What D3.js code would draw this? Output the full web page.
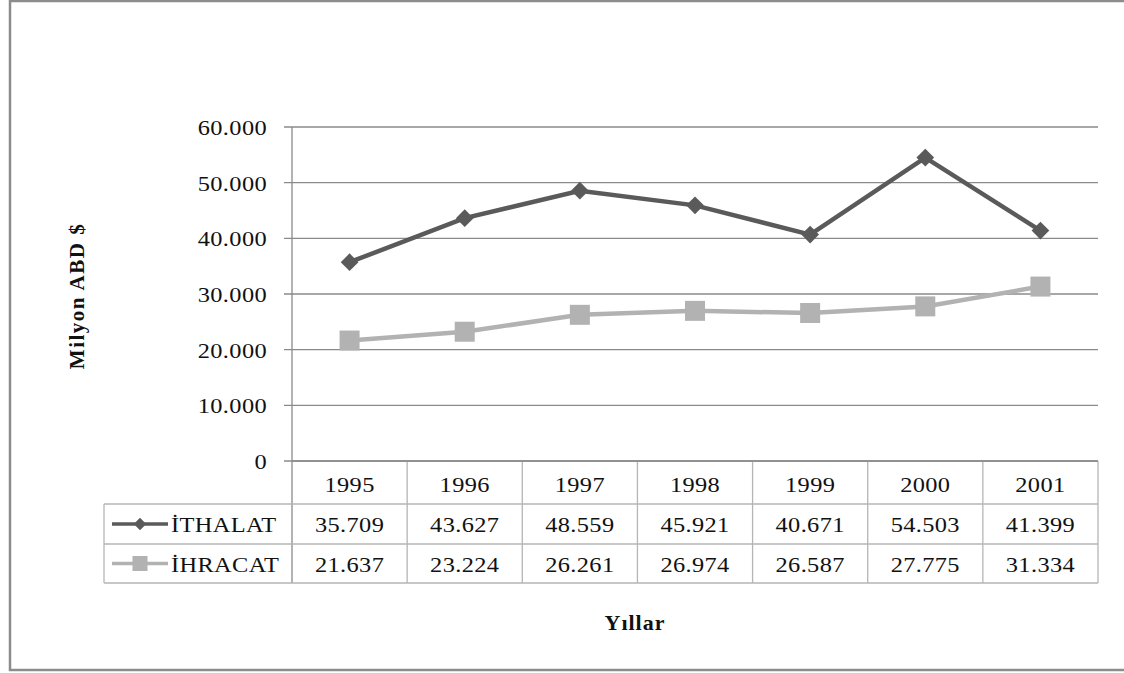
<!DOCTYPE html>
<html>
<head>
<meta charset="utf-8">
<script src="https://cdn.jsdelivr.net/npm/d3@7"></script>
<style>
  body { margin: 0; background: #fff; }
  text { font-family: "Liberation Serif", "Times New Roman", serif; fill: #111; }
</style>
</head>
<body>
<svg id="grafik" width="1124" height="673"></svg>
<script>
// veriler
const yillar = ["1995", "1996", "1997", "1998", "1999", "2000", "2001"];
const ithalat = [35709, 43627, 48559, 45921, 40671, 54503, 41399];
const ihracat = [21637, 23224, 26261, 26974, 26587, 27775, 31334];
const yTikler = [0, 10000, 20000, 30000, 40000, 50000, 60000];
const seriler = [
    { ad: "İTHALAT", degerler: ithalat, renk: "#5a5a5a", isaret: "elmas" },
    { ad: "İHRACAT", degerler: ihracat, renk: "#b2b2b2", isaret: "kare" }
];

var svg = d3.select("#grafik");
var GENIS = 1.22; // yazılar yatayda biraz geniş

// dış çerçeve
svg.append("rect")
    .attr("x", 10).attr("y", 1)
    .attr("width", 1125).attr("height", 669)
    .attr("fill", "none")
    .attr("stroke", "#8c8c8c")
    .attr("stroke-width", 2.5);

var sol = 292, sag = 1098, ust = 127, alt = 461;
var tabloSol = 104;
var satirY = [461, 504, 544, 583];

var x = d3.scaleBand().domain(yillar).range([sol, sag]);
var y = d3.scaleLinear().domain([0, 60000]).range([alt, ust]);

var fmt = function (v) { return d3.format(",")(v).replace(/,/g, "."); };

// geniş yazı yardımcı
function yazi(g, tx, ty, metin, hiza) {
    return g.append("text")
        .attr("transform", "translate(" + tx + "," + ty + ") scale(" + GENIS + ",1)")
        .attr("text-anchor", hiza || "middle")
        .style("font-size", "20px")
        .style("letter-spacing", "0.3px")
        .text(metin);
}

// yatay ızgara çizgileri
svg.append("g")
    .selectAll("line")
    .data(yTikler)
    .enter()
    .append("line")
    .attr("x1", sol - 8).attr("x2", sag)
    .attr("y1", function (d) { return y(d); })
    .attr("y2", function (d) { return y(d); })
    .attr("stroke", "#8a8a8a")
    .attr("stroke-width", 1.3);

// y ekseni etiketleri
var yEt = svg.append("g");
yTikler.forEach(function (d) {
    yazi(yEt, sol - 25, y(d) + 8, fmt(d), "end");
});

// dikey eksen çizgisi
svg.append("line")
    .attr("x1", sol).attr("x2", sol)
    .attr("y1", ust).attr("y2", satirY[3])
    .attr("stroke", "#8a8a8a").attr("stroke-width", 1.3);

// tablo çizgileri
var tablo = svg.append("g").attr("stroke", "#b5b5b5").attr("stroke-width", 1.3);
tablo.append("line").attr("x1", sag).attr("x2", sag).attr("y1", satirY[0]).attr("y2", satirY[3]);
yillar.forEach(function (yil, i) {
    if (i > 0) {
        tablo.append("line")
            .attr("x1", x(yil)).attr("x2", x(yil))
            .attr("y1", satirY[0]).attr("y2", satirY[3]);
    }
});
tablo.append("line").attr("x1", tabloSol).attr("x2", tabloSol).attr("y1", satirY[1]).attr("y2", satirY[3]);
[1, 2, 3].forEach(function (k) {
    tablo.append("line")
        .attr("x1", tabloSol).attr("x2", sag)
        .attr("y1", satirY[k]).attr("y2", satirY[k]);
});
tablo.append("line").attr("x1", sol).attr("x2", sag).attr("y1", satirY[0]).attr("y2", satirY[0])
    .attr("stroke", "#8a8a8a");

// yıl başlıkları
var baslik = svg.append("g");
yillar.forEach(function (d) {
    yazi(baslik, x(d) + x.bandwidth() / 2, (satirY[0] + satirY[1]) / 2 + 9, d);
});

function isaretCiz(g, tip, cx, cy, renk, boy) {
    if (tip === "elmas") {
        g.append("path")
            .attr("d", d3.symbol().type(d3.symbolDiamond2).size(boy * boy / 2)())
            .attr("transform", "translate(" + cx + "," + cy + ")")
            .attr("fill", renk);
    } else {
        g.append("rect")
            .attr("x", cx - boy / 2).attr("y", cy - boy / 2)
            .attr("width", boy).attr("height", boy)
            .attr("fill", renk);
    }
}

var cizgi = d3.line()
    .x(function (d, i) { return x(yillar[i]) + x.bandwidth() / 2; })
    .y(function (d) { return y(d); });

seriler.forEach(function (s, k) {
    var g = svg.append("g");
    g.append("path")
        .datum(s.degerler)
        .attr("d", cizgi)
        .attr("fill", "none")
        .attr("stroke", s.renk)
        .attr("stroke-width", 4.5);
    s.degerler.forEach(function (v, i) {
        isaretCiz(g, s.isaret, x(yillar[i]) + x.bandwidth() / 2, y(v), s.renk, 20);
    });

    // tablo satırı
    var orta = (satirY[k + 1] + satirY[k + 2]) / 2;
    var lg = svg.append("g");
    lg.append("line")
        .attr("x1", 112).attr("x2", 168)
        .attr("y1", orta).attr("y2", orta)
        .attr("stroke", s.renk).attr("stroke-width", 3.5);
    isaretCiz(lg, s.isaret, 140, orta, s.renk, s.isaret === "elmas" ? 14 : 15);
    yazi(lg, 171, orta + 8, s.ad, "start");

    var dg = svg.append("g");
    s.degerler.forEach(function (d, i) {
        yazi(dg, x(yillar[i]) + x.bandwidth() / 2, orta + 8, fmt(d));
    });
});

// eksen başlıkları
svg.append("text")
    .attr("transform", "translate(84,296) rotate(-90)")
    .attr("text-anchor", "middle")
    .style("font-size", "21px")
    .style("font-weight", "bold")
    .style("letter-spacing", "1.5px")
    .text("Milyon ABD $");

svg.append("text")
    .attr("x", 635)
    .attr("y", 630)
    .attr("text-anchor", "middle")
    .style("font-size", "22px")
    .style("font-weight", "bold")
    .style("letter-spacing", "1px")
    .text("Yıllar");
</script>
</body>
</html>
